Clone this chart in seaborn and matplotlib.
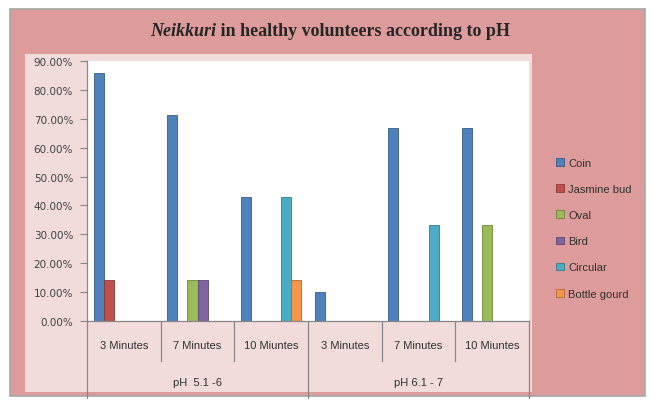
import numpy as np
import pandas as pd
import matplotlib
matplotlib.use('Agg')
import matplotlib.pyplot as plt
import matplotlib.transforms as mtransforms
from matplotlib.patches import Rectangle
import seaborn as sns

# data (percent of volunteers)
groups = ['pH  5.1 -6', 'pH 6.1 - 7']
minutes = ['3 Minutes', '7 Minutes', '10 Miuntes']
shapes = ['Coin', 'Jasmine bud', 'Oval', 'Bird', 'Circular', 'Bottle gourd']
coin = [85.71, 71.43, 42.86, 10.0, 66.67, 66.67]
jasmine_bud = [14.29, 0, 0, 0, 0, 0]
oval = [0, 14.29, 0, 0, 0, 33.33]
bird = [0, 14.29, 0, 0, 0, 0]
circular = [0, 0, 42.86, 0, 33.33, 0]
bottle_gourd = [0, 0, 14.29, 0, 0, 0]
colors = ['#4F81BD', '#C0504D', '#9BBB59', '#8064A2', '#4BACC6', '#F79646']

keys = [g + '|' + m for g in groups for m in minutes]
rows = []
for shape, vals in zip(shapes, [coin, jasmine_bud, oval, bird, circular, bottle_gourd]):
    for k, v in zip(keys, vals):
        if v > 0:
            rows.append((k, shape, v))
df = pd.DataFrame(rows, columns=['key', 'shape', 'pct'])

sns.set_style('white')
plt.rcParams['font.family'] = ['Liberation Sans', 'DejaVu Sans']

W, H = 655, 406
fig = plt.figure(figsize=(W / 100, H / 100), dpi=100)
fig.patch.set_facecolor('white')

def box(x0, y0, x1, y1):
    return [x0 / W, 1 - y1 / H, (x1 - x0) / W, (y1 - y0) / H]

# outer frame and inner panel
b = box(10, 10, 645, 397)
fig.patches.append(Rectangle((b[0], b[1]), b[2], b[3], transform=fig.transFigure,
                             facecolor='#DD9B9B', edgecolor='#A6A6A6', lw=1.2, zorder=-3))
b = box(25, 55, 532, 393)
fig.patches.append(Rectangle((b[0], b[1]), b[2], b[3], transform=fig.transFigure,
                             facecolor='#F2DCDB', edgecolor='none', zorder=-2))

ax = fig.add_axes(box(87, 62, 529, 322))
ax.set_facecolor('white')

sns.barplot(data=df, x='key', y='pct', hue='shape', order=keys, hue_order=shapes,
            palette=dict(zip(shapes, colors)), width=0.82, saturation=1,
            errorbar=None, ax=ax)
for p in ax.patches:
    fc = np.array(p.get_facecolor()[:3])
    p.set_edgecolor(tuple(fc * 0.7))
    p.set_linewidth(0.6)

handles, labels = ax.get_legend_handles_labels()
ax.get_legend().remove()
fig.legend(handles, labels, loc='upper left', bbox_to_anchor=(546 / W, 1 - 149 / H),
           frameon=False, fontsize=8, handlelength=0.7, handleheight=0.7,
           handletextpad=0.4, labelspacing=1.45, labelcolor='#303030')

ax.set_xlim(-0.5, 5.5)
ax.set_ylim(0, 90)
ax.set_yticks(range(0, 91, 10))
ax.set_yticklabels([f'{v:.2f}%' for v in range(0, 91, 10)])
ax.set_xticks([])
ax.set_xlabel('')
ax.set_ylabel('')
ax.tick_params(axis='y', left=True, length=5, color='#868686', labelsize=7.5,
               labelcolor='#404040', pad=5)
for lab in ax.get_yticklabels():
    lab.set_family('DejaVu Sans')
sns.despine(ax=ax)
for s in ['left', 'bottom']:
    ax.spines[s].set_color('#868686')
    ax.spines[s].set_linewidth(0.9)

trans = mtransforms.blended_transform_factory(ax.transData, ax.transAxes)
for i, k in enumerate(keys):
    ax.text(i, -0.092, k.split('|')[1], transform=trans, ha='center', va='center',
            fontsize=8, color='#303030')
for j, g in enumerate(groups):
    ax.text(1 + 3 * j, -0.235, g, transform=trans, ha='center', va='center',
            fontsize=8, color='#303030')
for x in [0.5, 1.5, 3.5, 4.5]:
    ax.plot([x, x], [0, -0.154], transform=trans, clip_on=False, color='#868686', lw=0.9)
for x in [-0.5, 2.5, 5.5]:
    ax.plot([x, x], [0, -0.295], transform=trans, clip_on=False, color='#868686', lw=0.9)

# title with italic word
t1 = fig.text(0, 1 - 31 / H, 'Neikkuri', family='Liberation Serif', style='italic',
              weight='bold', fontsize=13, va='center', ha='left')
t2 = fig.text(0, 1 - 31 / H, ' in healthy volunteers according to pH',
              family='Liberation Serif', weight='bold', fontsize=13, va='center', ha='left')
fig.canvas.draw()
r = fig.canvas.get_renderer()
w1 = t1.get_window_extent(r).width
w2 = t2.get_window_extent(r).width
x0 = (330 - (w1 + w2) / 2)
t1.set_x(x0 / W)
t2.set_x((x0 + w1) / W)

fig.savefig('out.png', dpi=100)
